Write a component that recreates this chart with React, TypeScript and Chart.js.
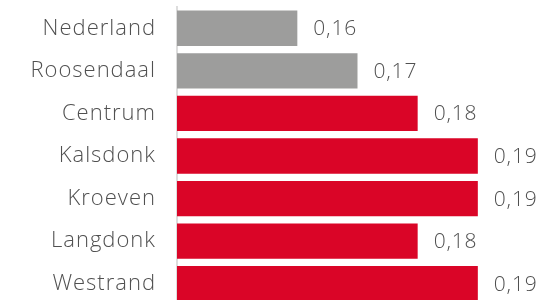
import React, { useEffect, useRef } from "react";
import { Chart, registerables } from "chart.js";

Chart.register(...registerables);

const categories = ["Nederland", "Roosendaal", "Centrum", "Kalsdonk", "Kroeven", "Langdonk", "Westrand"];
const values = [0.16, 0.17, 0.18, 0.19, 0.19, 0.18, 0.19];
const barColors = ["#9d9d9c", "#9d9d9c", "#da0527", "#da0527", "#da0527", "#da0527", "#da0527"];

const FONT = "'Open Sans', sans-serif";
const TEXT = "#505050";

const spacing = {
  id: "spacing",
  beforeDraw(chart: any) {
    (chart.ctx as any).letterSpacing = "1px";
  },
};

const valueLabels = {
  id: "valueLabels",
  afterDatasetsDraw(chart: any) {
    const { ctx } = chart;
    const meta = chart.getDatasetMeta(0);
    ctx.save();
    (ctx as any).letterSpacing = "0.8px";
    ctx.font = `300 21px ${FONT}`;
    ctx.fillStyle = TEXT;
    ctx.textAlign = "left";
    ctx.textBaseline = "middle";
    meta.data.forEach((bar: any, i: number) => {
      const v = chart.data.datasets[0].data[i] as number;
      const txt = v.toFixed(2).replace(".", ",");
      ctx.fillText(txt, bar.x + 16, bar.y + 1);
    });
    ctx.restore();
  },
};

export default function App() {
  const ref = useRef<HTMLCanvasElement>(null);
  useEffect(() => {
    if (!ref.current) return;
    const chart = new Chart(ref.current, {
      type: "bar",
      data: {
        labels: categories,
        datasets: [
          {
            data: values,
            backgroundColor: barColors,
            categoryPercentage: 1,
            barPercentage: 0.83,
            borderWidth: 0,
          },
        ],
      },
      options: {
        indexAxis: "y",
        animation: false,
        responsive: true,
        maintainAspectRatio: false,
        devicePixelRatio: 1,
        layout: { padding: { top: 7, right: 6, bottom: 0, left: 0 } },
        plugins: { legend: { display: false }, tooltip: { enabled: false } },
        scales: {
          x: {
            display: false,
            min: 0.14,
            max: 0.2,
          },
          y: {
            grid: { display: false, drawTicks: false },
            border: { display: true, color: "#dddddd", width: 2 },
            ticks: {
              color: TEXT,
              font: { family: FONT, size: 22, weight: "300" },
              padding: 21,
              autoSkip: false,
            },
            afterFit: (scale: any) => {
              scale.width = 177;
              scale.paddingTop = 0;
              scale.paddingBottom = 0;
            },
          },
        },
      },
      plugins: [spacing, valueLabels],
    });
    return () => chart.destroy();
  }, []);
  return (
    <div style={{ position: "fixed", top: 0, left: 0, width: 544, height: 305 }}>
      <canvas ref={ref} />
    </div>
  );
}
